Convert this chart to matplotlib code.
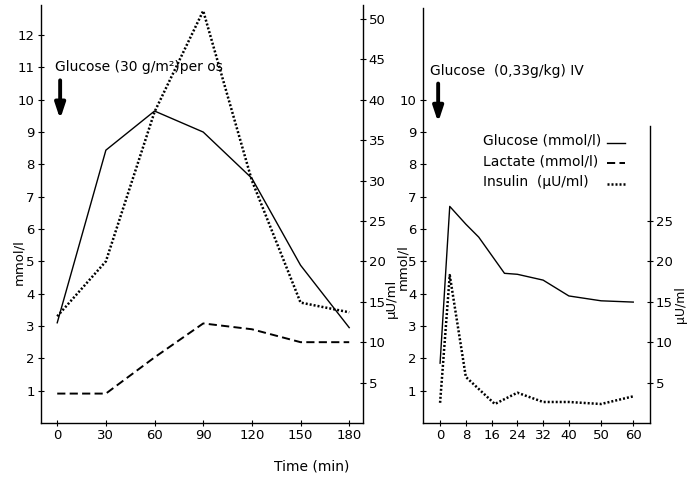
import matplotlib.pyplot as plt
from matplotlib.lines import Line2D

plt.rcParams['font.family'] = ['DejaVu Sans']
plt.rcParams['font.size'] = 10

# oral glucose (left panel)
oral_t = [0, 30, 60, 90, 120, 150, 180]
oral_glucose = [3.1, 8.44, 9.65, 9.0, 7.57, 4.88, 2.95]
oral_lactate = [0.91, 0.91, 2.03, 3.08, 2.9, 2.5, 2.5]
oral_insulin = [13.2, 20.0, 38.5, 51.0, 30.0, 14.9, 13.7]

# IV glucose (right panel)
iv_t_glu = [0, 3, 8, 12, 20, 24, 32, 40, 50, 60]
iv_glucose = [1.85, 6.7, 6.15, 5.75, 4.63, 4.6, 4.42, 3.93, 3.78, 3.74]
iv_t_ins = [0, 3, 8, 17, 24, 32, 40, 50, 60]
iv_insulin = [2.5, 18.3, 5.7, 2.35, 3.75, 2.6, 2.6, 2.35, 3.3]

oral_xticks = [0, 30, 60, 90, 120, 150, 180]
iv_xticks = [0, 8, 16, 24, 32, 40, 50, 60]

legend_labels = ['Glucose (mmol/l)', 'Lactate (mmol/l)', 'Insulin  (\u00b5U/ml)']

solid = dict(color='black', lw=1.0, linestyle='-')
dashed = dict(color='black', lw=1.4, linestyle=(0, (4.2, 2.2)))
dotted = dict(color='black', lw=1.8, linestyle=(0, (0.8, 0.8)))

W, H = 689, 479
fig = plt.figure(figsize=(6.89, 4.79), dpi=100)

YMAX = 12.93
UMAX = YMAX * 4


def px(x0, y0, x1, y1):
    return [x0 / W, 1 - y1 / H, (x1 - x0) / W, (y1 - y0) / H]


def style(ax, tw):
    for a in (ax, tw):
        a.spines['top'].set_visible(False)
        for s in a.spines.values():
            s.set_linewidth(1.0)
    ax.spines['right'].set_visible(False)
    tw.spines['left'].set_visible(False)
    tw.spines['bottom'].set_visible(False)
    ax.tick_params(axis='both', direction='inout', length=5, width=0.8, pad=2, labelsize=9.5)
    tw.tick_params(axis='y', direction='inout', length=5, width=0.8, pad=1.5, labelsize=9.5)


arrow = dict(arrowstyle='-|>,head_width=0.3,head_length=0.9',
             lw=2.8, color='black', shrinkA=0, shrinkB=0)

# ---- left panel ----
ax1 = fig.add_axes(px(41, 5, 363, 423))
tw1 = ax1.twinx()
ax1.plot(oral_t, oral_glucose, **solid)
ax1.plot(oral_t, oral_lactate, **dashed)
tw1.plot(oral_t, oral_insulin, **dotted)
ax1.set_xlim(-10, 188.5)
ax1.set_ylim(0, YMAX)
tw1.set_ylim(0, UMAX)
ax1.set_xticks(oral_xticks)
ax1.set_yticks(range(1, 13))
tw1.set_yticks(range(5, 51, 5))
style(ax1, tw1)
ax1.text(-1.2, 11.0, 'Glucose (30 g/m\u00b2)per os', va='center', ha='left')
ax1.annotate('', xy=(1.8, 9.4), xytext=(1.8, 10.6), arrowprops=arrow)

# ---- right panel ----
ax2 = fig.add_axes(px(422.7, 5, 650, 423))
tw2 = ax2.twinx()
ax2.plot(iv_t_glu, iv_glucose, **solid)
tw2.plot(iv_t_ins, iv_insulin, **dotted)
ax2.set_xlim(-5.4, 65.2)
ax2.set_ylim(0, YMAX)
tw2.set_ylim(0, UMAX)
ax2.set_xticks(iv_xticks)
ax2.set_yticks(range(1, 11))
tw2.set_yticks(range(5, 26, 5))
style(ax2, tw2)
ax2.spines['left'].set_bounds(0, 12.85)
tw2.spines['right'].set_bounds(0, 36.8)
ax2.text(-3.1, 10.9, 'Glucose  (0,33g/kg) IV', va='center', ha='left')
ax2.annotate('', xy=(-0.6, 9.3), xytext=(-0.6, 10.5), arrowprops=arrow)

# legend: labels left aligned, key to the right
for i, (lab, st) in enumerate(zip(legend_labels, [solid, dashed, dotted])):
    y = 1 - (141 + i * 20.5) / H
    fig.text(483 / W, y, lab, ha='left', va='center')
    fig.add_artist(Line2D([607 / W, 625 / W], [y - 2 / H, y - 2 / H],
                          transform=fig.transFigure, **st))

# axis labels
lab = dict(rotation=90, ha='center', va='center', fontsize=9.5)
fig.text(19 / W, 1 - 262 / H, 'mmol/l', **lab)
fig.text(391 / W, 1 - 298 / H, '\u00b5U/ml', **lab)
fig.text(403 / W, 1 - 267 / H, 'mmol/l', **lab)
fig.text(681 / W, 1 - 305 / H, '\u00b5U/ml', rotation=90, ha='center', va='center', fontsize=9)
fig.text(312 / W, 1 - 466 / H, 'Time (min)', ha='center', va='center')

fig.savefig('out.png', dpi=100)
